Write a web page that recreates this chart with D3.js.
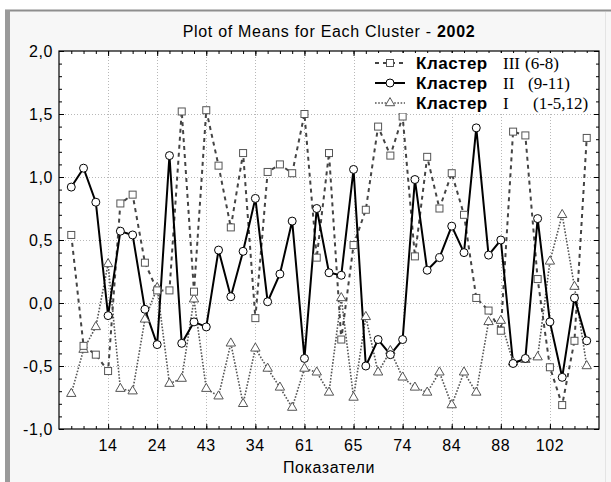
<!DOCTYPE html>
<html>
<head>
<meta charset="utf-8">
<script src="https://cdn.jsdelivr.net/npm/d3@7"></script>
<style>
  body { margin: 0; background: #fff; }
  text { font-family: "Liberation Sans", Arial, sans-serif; fill: #000; }
</style>
</head>
<body>
<script>
// Values (43 indicators, labels shown on every 4th one)
const categories = [1, 2, 3, 4, 5, 6, 7, 8, 9, 10, 11, 12, 13, 14, 15, 16, 17, 18, 19, 20, 21,
  22, 23, 24, 25, 26, 27, 28, 29, 30, 31, 32, 33, 34, 35, 36, 37, 38, 39, 40, 41, 42, 43];
const labelledCategories = [4, 8, 12, 16, 20, 24, 28, 32, 36, 40];
const tickLabels = ['14', '24', '43', '34', '61', '65', '74', '84', '88', '102'];

const cluster3 = [0.54, -0.34, -0.41, -0.54, 0.79, 0.86, 0.32, 0.10, 0.10, 1.52, 0.09, 1.53, 1.09,
  0.60, 1.19, -0.12, 1.04, 1.10, 1.03, 1.50, 0.36, 1.19, -0.29, 0.46, 0.74, 1.40, 1.17, 1.48, 0.37,
  1.16, 0.75, 1.03, 0.70, 0.04, -0.06, -0.22, 1.36, 1.33, 0.19, -0.51, -0.81, -0.30, 1.31];
const cluster2 = [0.92, 1.07, 0.80, -0.10, 0.57, 0.54, -0.05, -0.33, 1.17, -0.32, -0.15, -0.19, 0.42,
  0.05, 0.41, 0.83, 0.01, 0.23, 0.65, -0.44, 0.75, 0.24, 0.22, 1.06, -0.50, -0.29, -0.41, -0.29, 0.98,
  0.26, 0.36, 0.61, 0.40, 1.39, 0.38, 0.50, -0.48, -0.44, 0.67, -0.15, -0.59, 0.04, -0.30];
const cluster1 = [-0.72, -0.37, -0.19, 0.31, -0.68, -0.70, -0.13, 0.12, -0.64, -0.60, 0.03, -0.68, -0.74,
  -0.32, -0.80, -0.36, -0.52, -0.67, -0.83, -0.52, -0.55, -0.71, 0.04, -0.75, -0.11, -0.55, -0.38, -0.59,
  -0.67, -0.71, -0.55, -0.81, -0.55, -0.71, -0.15, -0.14, -0.47, -0.45, -0.43, 0.33, 0.70, 0.13, -0.50];

const legendNames = ['Кластер', 'Кластер', 'Кластер'];
const legendNumerals = ['III', 'II', 'I'];
const legendRanges = ['(6-8)', '(9-11)', '(1-5,12)'];

const W = 611, H = 482;
const margin = {top: 51, right: 12, bottom: 53, left: 59};
const width = W - margin.left - margin.right;
const height = H - margin.top - margin.bottom;

const svg = d3.select('body').append('svg')
  .attr('width', W)
  .attr('height', H);

// window frame
svg.append('rect').attr('x', 6).attr('y', 10).attr('width', W - 6).attr('height', H - 10).attr('fill', '#f7f7f7');
svg.append('line').attr('x1', 5).attr('x2', W).attr('y1', 10.5).attr('y2', 10.5)
  .attr('stroke', '#8e8e8e').attr('stroke-width', 2);
svg.append('rect').attr('x', 5).attr('y', 10).attr('width', 5).attr('height', H - 10).attr('fill', '#9a9a9a');
svg.append('line').attr('x1', 605.5).attr('x2', 605.5).attr('y1', 12).attr('y2', H)
  .attr('stroke', '#e4e4e4').attr('stroke-width', 1);

const g = svg.append('g')
  .attr('transform', `translate(${margin.left}, ${margin.top})`);

const x = d3.scalePoint().domain(categories).range([0, width]).padding(1);
const y = d3.scaleLinear().domain([-1, 2]).range([height, 0]);

g.append('rect').attr('width', width).attr('height', height).attr('fill', '#fff');

// grid
g.selectAll('.hgrid').data(y.ticks(6).filter(v => v > -1 && v < 2)).enter().append('line')
  .attr('x1', 0).attr('x2', width)
  .attr('y1', d => Math.round(y(d)) + 0.5).attr('y2', d => Math.round(y(d)) + 0.5)
  .attr('stroke', '#b8b8b8').attr('stroke-dasharray', '1,2');
g.selectAll('.vgrid').data(labelledCategories).enter().append('line')
  .attr('y1', 0).attr('y2', height)
  .attr('x1', d => Math.round(x(d)) + 0.5).attr('x2', d => Math.round(x(d)) + 0.5)
  .attr('stroke', '#b8b8b8').attr('stroke-dasharray', '1,2');

// inward ticks on all four sides
const fmt = v => v.toFixed(1).replace('.', ',');
g.append('g').call(d3.axisRight(y).ticks(30).tickSize(3).tickFormat(''));
g.append('g').attr('transform', `translate(${width},0)`).call(d3.axisLeft(y).ticks(30).tickSize(3).tickFormat(''));
g.append('g').call(d3.axisRight(y).ticks(6).tickSize(5).tickFormat(''));
g.append('g').attr('transform', `translate(${width},0)`).call(d3.axisLeft(y).ticks(6).tickSize(5).tickFormat(''));
g.append('g').attr('transform', `translate(0,${height})`).call(d3.axisTop(x).tickSize(3).tickFormat(''));
g.append('g').call(d3.axisBottom(x).tickSize(3).tickFormat(''));
g.append('g').attr('transform', `translate(0,${height})`).call(d3.axisTop(x).tickValues(labelledCategories).tickSize(5).tickFormat(''));
g.append('g').call(d3.axisBottom(x).tickValues(labelledCategories).tickSize(5).tickFormat(''));
g.selectAll('.domain').remove();
g.selectAll('.tick line').attr('stroke', '#000');

g.append('rect').attr('width', width).attr('height', height)
  .attr('fill', 'none').attr('stroke', '#000').attr('stroke-width', 1.2);

// tick labels
g.selectAll('.ylab').data(y.ticks(6)).enter().append('text')
  .attr('x', -6).attr('y', d => y(d)).attr('dy', '0.35em')
  .attr('text-anchor', 'end').style('font-size', '16px').style('letter-spacing', '0.6px').text(fmt);
g.selectAll('.xlab').data(labelledCategories).enter().append('text')
  .attr('x', d => x(d)).attr('y', height + 22)
  .attr('text-anchor', 'middle').style('font-size', '16px').style('letter-spacing', '0.6px')
  .text((d, i) => tickLabels[i]);

g.append('text').attr('x', width / 2).attr('y', height + 44)
  .attr('text-anchor', 'middle').style('font-size', '16px').style('letter-spacing', '0.6px').text('Показатели');

const title = svg.append('text').attr('x', margin.left + width / 2).attr('y', 37)
  .attr('text-anchor', 'middle').style('font-size', '16px').style('letter-spacing', '0.7px');
title.append('tspan').text('Plot of Means for Each Cluster - ');
title.append('tspan').style('font-weight', 'bold').text('2002');

// series
const line = d3.line().x((d, i) => x(categories[i])).y(d => y(d));
const tri = d3.symbol().type(d3.symbolTriangle).size(38);

g.append('path').datum(cluster1).attr('d', line)
  .attr('fill', 'none').attr('stroke', '#555').attr('stroke-width', 1.6).attr('stroke-dasharray', '1.6,1.6');
g.append('path').datum(cluster3).attr('d', line)
  .attr('fill', 'none').attr('stroke', '#444').attr('stroke-width', 2).attr('stroke-dasharray', '4,4');
g.append('path').datum(cluster2).attr('d', line)
  .attr('fill', 'none').attr('stroke', '#000').attr('stroke-width', 2);

g.selectAll('.tri').data(cluster1).enter().append('path')
  .attr('d', tri)
  .attr('transform', (d, i) => `translate(${x(categories[i])},${y(d)})`)
  .attr('fill', '#fff').attr('stroke', '#555').attr('stroke-width', 1);
g.selectAll('.sq').data(cluster3).enter().append('rect')
  .attr('x', (d, i) => x(categories[i]) - 3.5).attr('y', d => y(d) - 3.5)
  .attr('width', 7).attr('height', 7)
  .attr('fill', '#fff').attr('stroke', '#555').attr('stroke-width', 1);
g.selectAll('.circ').data(cluster2).enter().append('circle')
  .attr('cx', (d, i) => x(categories[i])).attr('cy', d => y(d)).attr('r', 4)
  .attr('fill', '#fff').attr('stroke', '#000').attr('stroke-width', 1);

// legend
const legend = svg.append('g').attr('transform', 'translate(372,53)');
legend.append('rect').attr('width', 224).attr('height', 60).attr('fill', '#fff');
const styles = [
  {stroke: '#444', width: 2, dash: '4,4', mark: 'sq'},
  {stroke: '#000', width: 2, dash: null, mark: 'circ'},
  {stroke: '#555', width: 1.6, dash: '1.6,1.6', mark: 'tri'}
];
const rangeX = [153, 156, 161];
legendNames.forEach((name, i) => {
  const row = legend.append('g').attr('transform', `translate(0,${10 + i * 20})`);
  const s = styles[i];
  row.append('line').attr('x1', 3).attr('x2', 33).attr('y1', 0).attr('y2', 0)
    .attr('stroke', s.stroke).attr('stroke-width', s.width).attr('stroke-dasharray', s.dash);
  if (s.mark === 'sq') {
    row.append('rect').attr('x', 14.5).attr('y', -3.5).attr('width', 7).attr('height', 7)
      .attr('fill', '#fff').attr('stroke', '#555');
  } else if (s.mark === 'circ') {
    row.append('circle').attr('cx', 18).attr('cy', 0).attr('r', 4).attr('fill', '#fff').attr('stroke', '#000');
  } else {
    row.append('path').attr('d', tri).attr('transform', 'translate(18,0)').attr('fill', '#fff').attr('stroke', '#555');
  }
  row.append('text').attr('x', 44).attr('dy', '0.35em')
    .style('font-size', '17px').style('font-weight', 'bold').style('letter-spacing', '0.5px').text(name);
  row.append('text').attr('x', 131).attr('dy', '0.35em')
    .style('font-family', '"Liberation Serif", serif').style('font-size', '17px').text(legendNumerals[i]);
  row.append('text').attr('x', rangeX[i]).attr('dy', '0.35em')
    .style('font-family', '"Liberation Serif", serif').style('font-size', '17px').text(legendRanges[i]);
});
</script>
</body>
</html>
